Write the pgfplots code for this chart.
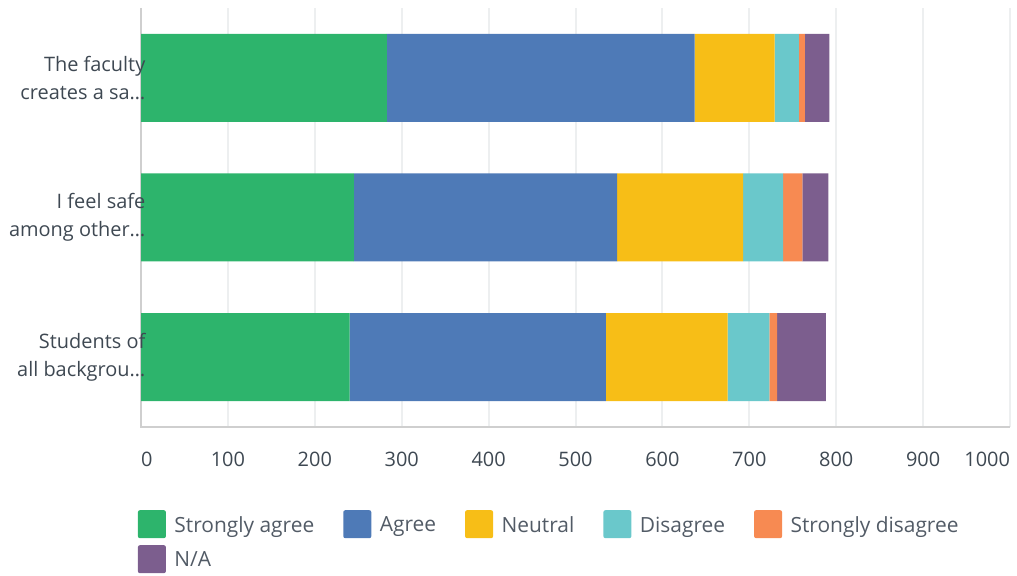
\documentclass[border=0pt]{standalone}
\usepackage{pgfplots}
\pgfplotsset{compat=1.18}
\usepackage{fontspec}
\setmainfont{Open Sans}
\definecolor{cSA}{HTML}{2DB46C}
\definecolor{cA}{HTML}{4E7AB7}
\definecolor{cN}{HTML}{F7BE17}
\definecolor{cD}{HTML}{6AC8CB}
\definecolor{cSD}{HTML}{F78A52}
\definecolor{cNA}{HTML}{7C5E8E}
\definecolor{gridc}{HTML}{EDEFF0}
\definecolor{axc}{HTML}{CFCFCF}
\definecolor{txt}{HTML}{3E4852}
\definecolor{legtxt}{HTML}{525B66}
\begin{document}
\begin{tikzpicture}[x=1bp,y=1bp]
\path[use as bounding box] (0,0) rectangle (1017,576);
\begin{axis}[
  at={(141bp,149bp)}, anchor=south west,
  scale only axis, width=869bp, height=419bp,
  xbar stacked, bar width=88bp,
  xmin=0, xmax=1000, ymin=-0.5, ymax=2.5,
  xtick={0,100,...,1000},
  xticklabels={\makebox[0pt][l]{0},100,200,300,400,500,600,700,800,900,\makebox[0pt][r]{1000}},
  ytick={0,1,2},
  yticklabels={},
  major tick length=0pt,
  xmajorgrids, grid style={color=gridc, line width=2bp},
  axis line style={draw=none},
  every x tick label/.style={font=\fontsize{20}{24}\selectfont, text=txt, inner sep=0pt, anchor=north, yshift=-25bp},
  legend columns=5,
  legend cell align=left,
  legend image code/.code={\fill[#1,draw=none,rounded corners=2bp] (0bp,-13bp) rectangle (28bp,15bp);},
  legend style={at={(axis description cs:0,0)}, anchor=north west, xshift=-3.3bp, yshift=-83bp,
    draw=none, fill=none, inner sep=0pt, font=\fontsize{21}{25}\selectfont, text=legtxt,
    column sep=0pt, row sep=7bp,
    nodes={inner sep=0pt},
    /tikz/every odd column/.append style={column sep=8.5bp},
    /tikz/every even column/.append style={column sep=29bp}},
  clip=false,
]
\addplot[fill=cSA, draw=none] coordinates {(240,0) (245,1) (283,2)};
\addplot[fill=cA, draw=none] coordinates {(295,0) (303,1) (354,2)};
\addplot[fill=cN, draw=none] coordinates {(140,0) (145,1) (92,2)};
\addplot[fill=cD, draw=none] coordinates {(48,0) (46,1) (28,2)};
\addplot[fill=cSD, draw=none] coordinates {(9,0) (22,1) (7,2)};
\addplot[fill=cNA, draw=none] coordinates {(56,0) (30,1) (28,2)};
\legend{Strongly agree, Agree, Neutral, Disagree, Strongly disagree, N/A}
\draw[axc, line width=2bp] (rel axis cs:0,1) -- (rel axis cs:0,0) -- (rel axis cs:1,0);
\coordinate (c2) at (axis cs:0,2);
\coordinate (c1) at (axis cs:0,1);
\coordinate (c0) at (axis cs:0,0);
\end{axis}
\tikzset{catlab/.style={font=\fontsize{20}{28}\selectfont, text=txt, inner sep=0pt, anchor=east, align=right, xshift=4.5bp}}
\node[catlab] at (c2) {The faculty\\creates a sa…};
\node[catlab] at (c1) {I feel safe\\among other…};
\node[catlab] at (c0) {Students of\\all backgrou…};
\end{tikzpicture}
\end{document}
